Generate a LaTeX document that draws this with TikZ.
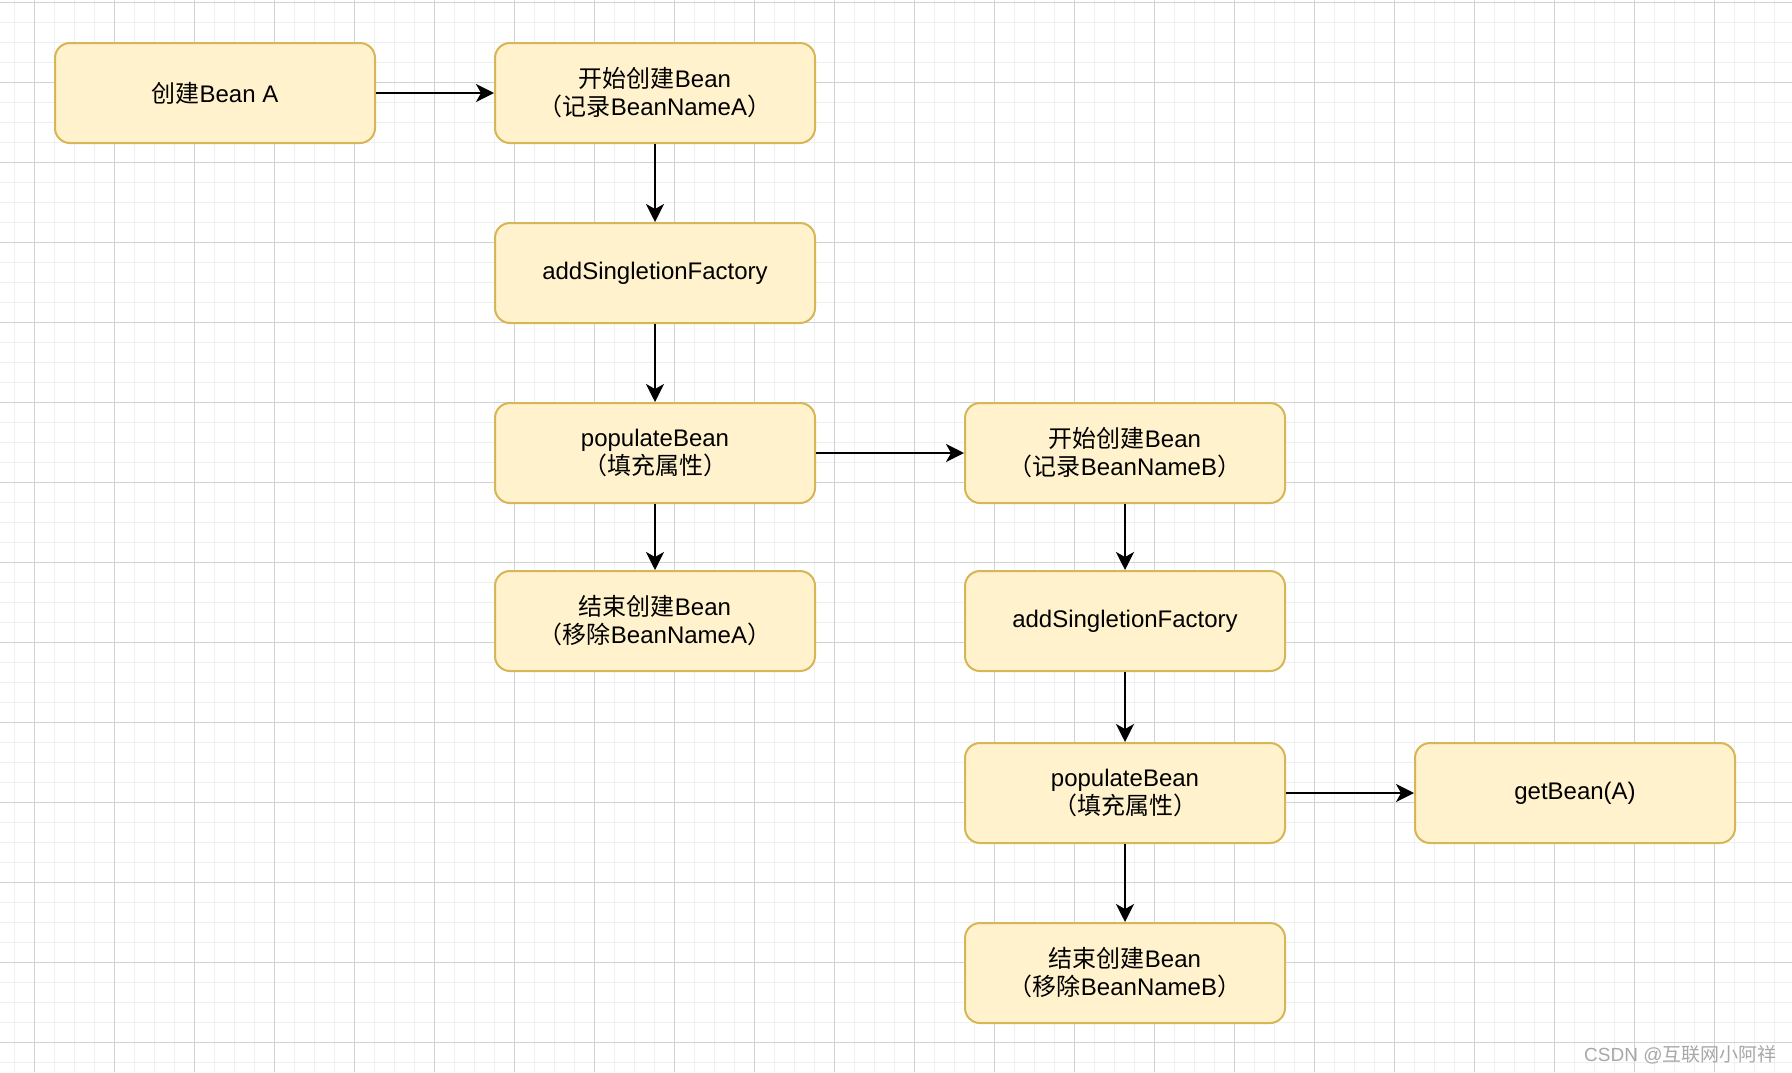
\documentclass[tikz,border=0pt]{standalone}
\usepackage{fontspec}
\setmainfont{Liberation Sans}
\newfontfamily\cjk{Noto Sans CJK SC}
\usetikzlibrary{arrows.meta}
\definecolor{boxfill}{HTML}{FFF2CC}
\definecolor{boxline}{HTML}{D6B656}
\definecolor{gridminor}{HTML}{EFEFEF}
\definecolor{gridmajor}{HTML}{D2D2D2}
\definecolor{markgray}{HTML}{A8A8A8}
\tikzset{
  stepbox/.style={draw=boxline, fill=boxfill, line width=1pt, rounded corners=7.5pt,
    minimum width=160pt, minimum height=50pt, align=center, font=\fontsize{12}{14}\selectfont},
  flow/.style={line width=1pt, -{Stealth[length=9pt, width=9pt, inset=2.5pt]}}
}
\begin{document}
\begin{tikzpicture}[x=0.5pt, y=-0.5pt]
\useasboundingbox (0,0) rectangle (1792,1072);
\fill[white] (0,0) rectangle (1792,1072);
% grid
\foreach \i in {0,...,89} \draw[gridminor, line width=0.8pt] (14.3+20*\i,0) -- (14.3+20*\i,1072);
\foreach \i in {0,...,53} \draw[gridminor, line width=0.8pt] (0,2.3+20*\i) -- (1792,2.3+20*\i);
\foreach \i in {0,...,22} \draw[gridmajor, line width=0.6pt] (34.3+80*\i,0) -- (34.3+80*\i,1072);
\foreach \i in {0,...,13} \draw[gridmajor, line width=0.6pt] (0,2.3+80*\i) -- (1792,2.3+80*\i);

% bean A
\node[stepbox] (beanA) at (215,93) {{\cjk 创建}Bean A};
\node[stepbox] (startA) at (655,93) {{\cjk 开始创建}Bean\\{\cjk （记录}BeanNameA{\cjk ）}};
\node[stepbox] (addA) at (655,273) {addSingletionFactory};
\node[stepbox] (popA) at (655,453) {populateBean\\{\cjk （填充属性）}};
\node[stepbox] (endA) at (655,621) {{\cjk 结束创建}Bean\\{\cjk （移除}BeanNameA{\cjk ）}};

% bean B
\node[stepbox] (startB) at (1125,453) {{\cjk 开始创建}Bean\\{\cjk （记录}BeanNameB{\cjk ）}};
\node[stepbox] (addB) at (1125,621) {addSingletionFactory};
\node[stepbox] (popB) at (1125,793) {populateBean\\{\cjk （填充属性）}};
\node[stepbox] (endB) at (1125,973) {{\cjk 结束创建}Bean\\{\cjk （移除}BeanNameB{\cjk ）}};
\node[stepbox] (getA) at (1575,793) {getBean(A)};

\draw[flow] (beanA) -- (startA);
\draw[flow] (startA) -- (addA);
\draw[flow] (addA) -- (popA);
\draw[flow] (popA) -- (endA);
\draw[flow] (popA) -- (startB);
\draw[flow] (startB) -- (addB);
\draw[flow] (addB) -- (popB);
\draw[flow] (popB) -- (endB);
\draw[flow] (popB) -- (getA);

\node[anchor=base east, inner sep=0pt, text=markgray, font=\fontsize{9.5}{10}\selectfont] (mark) at (1777,1061) {CSDN @{\cjk 互联网小阿祥}};
\end{tikzpicture}
\end{document}
